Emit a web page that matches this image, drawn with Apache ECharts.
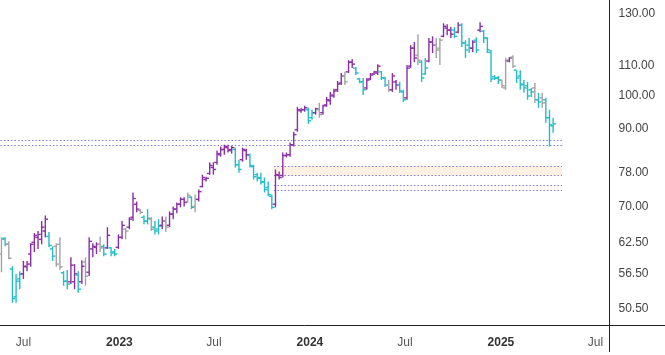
<!DOCTYPE html>
<html>
<head>
<meta charset="utf-8">
<script src="https://cdn.jsdelivr.net/npm/echarts@6/dist/echarts.min.js"></script>
<style>
  html, body { margin: 0; padding: 0; background: #ffffff; }
  #chart { width: 665px; height: 355px; }
</style>
</head>
<body>
<div id="chart"></div>
<script>
// ---------- DATA ----------
// Weekly bars, first week ending Friday 20 May 2022
const firstWeek = [2022, 4, 20];

const opens = [
  60.2,63.3,62.1,57.4,52.5,55.6,56.5,57.8,60.2,62.5,
  63.5,63.1,64.8,63.7,61.2,61.7,62.1,56.7,55.2,55.1,
  55.1,56.3,55.1,58.7,56.8,61.2,61.5,62.1,61.7,61.4,
  61.4,60.6,61.5,63.5,65.2,65.6,67.7,70.6,69.2,67.7,
  66.9,67.3,65.6,65.2,66.0,66.9,66.0,68.4,69.5,70.6,
  71.7,71.2,72.2,70.1,71.7,74.7,76.4,77.9,79.4,80.7,
  82.7,84.1,84.6,84.1,84.1,80.1,81.4,83.8,82.5,79.6,
  77.6,76.9,75.9,74.5,72.4,70.6,77.4,77.4,82.5,82.7,
  85.4,89.6,95.2,95.5,95.5,93.1,94.6,95.5,94.6,97.0,
  98.3,99.8,101.8,104.0,106.4,107.8,111.2,109.1,105.4,104.4,
  102.4,105.4,107.1,107.4,107.8,105.7,103.4,101.8,104.4,103.4,
  101.1,99.2,109.8,116.3,113.7,111.2,107.1,111.6,118.6,117.4,
  116.3,120.8,124.0,123.2,123.2,122.4,125.1,118.2,117.4,116.3,
  119.3,123.2,122.8,120.1,114.8,106.1,105.7,105.0,102.4,111.6,
  113.0,108.4,106.4,103.7,103.1,101.8,102.4,98.6,99.2,98.6,
  93.1,90.7
];
const highs = [
  63.5,63.5,62.7,57.9,56.5,57.0,58.9,58.9,62.3,64.4,
  64.8,66.9,68.1,64.6,61.7,62.3,63.5,57.0,57.2,59.6,
  58.3,57.0,59.0,59.6,63.5,62.3,62.5,63.7,62.1,65.6,
  61.5,61.2,64.1,66.9,65.4,67.7,73.3,71.2,69.5,68.1,
  69.5,67.7,66.9,67.3,67.9,67.9,69.0,70.1,71.0,72.2,
  72.2,73.3,72.4,72.8,74.0,77.6,77.1,80.7,80.7,83.8,
  84.9,85.4,85.4,85.1,84.6,81.4,84.6,84.3,83.0,80.1,
  78.1,78.1,76.9,75.9,72.8,78.9,78.4,83.3,83.3,86.0,
  89.0,96.4,96.1,96.7,96.1,95.5,96.1,97.6,97.0,99.5,
  101.1,102.1,104.7,107.4,107.8,111.9,112.3,109.5,105.7,105.7,
  105.7,107.4,108.1,110.5,108.1,106.1,105.0,107.4,105.0,104.4,
  101.8,110.2,117.4,118.6,121.6,111.9,112.7,120.1,120.8,120.1,
  120.1,125.9,125.5,124.4,124.4,126.3,125.9,119.3,120.1,119.3,
  120.4,126.3,123.2,120.4,115.6,106.7,106.4,105.0,112.7,113.0,
  113.7,108.4,108.4,105.0,104.4,102.4,104.0,100.8,100.8,99.2,
  95.5,93.1
];
const lows = [
  56.8,61.7,59.2,51.5,51.5,53.8,55.6,57.0,57.8,60.6,
  61.2,62.1,63.5,61.5,58.9,57.8,57.2,54.4,53.8,54.7,
  53.8,53.2,54.7,54.4,56.1,59.6,60.2,60.6,59.8,61.2,
  59.8,59.8,61.2,63.1,63.1,65.2,66.9,68.8,68.4,66.2,
  66.2,64.8,64.1,64.1,65.2,64.6,65.6,67.3,68.6,69.9,
  70.1,71.0,69.5,68.8,71.2,74.5,75.9,77.6,77.6,80.1,
  82.2,82.7,83.3,83.0,79.4,78.1,80.9,81.4,79.4,76.4,
  75.9,75.2,73.3,72.4,69.5,69.9,76.4,76.9,82.0,82.2,
  84.9,89.0,94.6,94.9,91.3,92.5,94.0,93.1,94.0,96.4,
  97.0,99.2,101.1,103.4,103.4,107.4,109.1,106.7,104.0,100.1,
  101.8,105.0,106.7,106.7,105.0,102.7,101.1,101.1,101.8,100.8,
  97.9,98.6,109.1,111.2,110.2,104.4,106.7,111.2,114.5,112.7,
  110.2,120.4,121.2,120.1,120.1,122.0,116.7,112.7,114.5,114.8,
  114.5,122.4,118.2,114.5,104.4,105.0,103.7,102.4,101.8,111.2,
  109.1,104.0,101.8,100.8,98.6,99.5,97.6,96.1,96.1,91.6,
  84.9,88.7
];
const closes = [
  63.1,62.1,59.4,52.2,55.2,56.5,57.9,58.3,62.1,63.9,
  64.1,65.6,67.3,61.9,59.8,58.3,57.8,55.2,54.7,58.1,
  56.5,53.8,57.9,56.1,62.7,61.7,62.1,61.4,60.2,63.9,
  60.4,60.2,63.5,66.0,64.8,67.3,71.9,69.5,68.8,66.9,
  67.5,65.2,64.8,65.8,66.9,65.6,68.4,69.5,70.6,71.7,
  71.0,72.6,69.9,71.7,73.5,76.9,76.7,79.9,78.9,83.0,
  84.1,84.9,83.8,84.6,80.1,78.9,84.1,82.7,79.9,77.1,
  76.7,75.7,74.0,72.8,69.9,77.6,76.9,82.5,82.7,85.4,
  88.2,95.5,95.5,96.1,92.2,94.6,95.8,94.0,96.7,98.6,
  100.1,101.4,103.7,106.4,104.4,111.2,110.5,107.4,104.4,101.8,
  105.0,106.7,107.8,109.8,105.7,103.4,101.8,106.4,103.4,101.4,
  98.6,109.1,116.3,112.7,111.9,105.7,109.1,118.6,117.4,115.6,
  119.3,124.7,123.2,121.6,120.8,125.1,118.2,115.6,116.3,118.6,
  115.6,124.7,120.1,115.6,105.4,105.7,105.0,103.1,111.9,112.7,
  109.8,105.7,103.4,102.4,99.8,101.1,98.6,97.9,97.6,93.1,
  91.0,91.3
];
// p = rising impulse, t = falling impulse, g = neutral
const barStates = (
  'g t g t t t p p p p ' + 'p p p t t g g t t p ' + 'p t p g p p p g t p ' +
  't t p p g p p p g t ' + 't g t t p g p p p p ' + 'p g t g p p p p p p ' +
  'p p p p t t p p t t ' + 't t t t t p p p p p ' + 'p p p p t t p g p p ' +
  'p p p p g p p t t t ' + 'p p p p t t g p p t ' + 't p p p g t t p p g ' +
  'g p p p t p t t t p ' + 't p t t t t t g g p ' + 'g t t t t t g t g t ' +
  't t'
).trim().split(/\s+/);

const yTicks = [50.5, 56.5, 62.5, 70, 78, 90, 100, 110, 130];
const xTickDates = [[2022,6,1],[2023,0,1],[2023,6,1],[2024,0,1],[2024,6,1],[2025,0,1],[2025,6,1]];
const xTickLabels = ['Jul','2023','Jul','2024','Jul','2025','Jul'];

// horizontal levels: [price, startDate, endDate]
const levelLines = [
  [86.60, [2022,4,18], [2025,3,28]],
  [85.23, [2022,4,18], [2025,3,28]],
  [79.77, [2023,9,24], [2025,3,28]],
  [77.33, [2023,9,24], [2025,3,28]],
  [74.99, [2023,9,24], [2025,3,28]],
  [73.80, [2023,9,24], [2025,3,28]]
];
// shaded zones: [low, high, startDate, endDate, strength]
const zones = [
  [77.33, 79.77, [2023,9,24], [2025,3,28], 0.45],
  [73.80, 74.99, [2023,9,24], [2025,3,28], 0.18]
];

// ---------- CHART ----------
const ts = d => new Date(d[0], d[1], d[2]).getTime();
const DAY = 86400000;
const start = ts(firstWeek);
const weeks = opens.map((_, i) => start + i * 7 * DAY);
const bars = weeks.map((t, i) => [t, opens[i], highs[i], lows[i], closes[i]]);
const xTicks = xTickDates.map(ts);

const palette = { p: '#8b2fa6', t: '#22bdc9', g: '#a3a3a3' };
const font = 'Liberation Sans, Arial, sans-serif';

const chart = echarts.init(document.getElementById('chart'), null, { renderer: 'canvas' });

chart.setOption({
  animation: false,
  backgroundColor: '#ffffff',
  grid: { left: 0, right: 55.5, top: 0, bottom: 30, containLabel: false },
  xAxis: {
    type: 'value',
    scale: true,
    min: new Date(2022, 4, 17, 4).getTime(),
    max: new Date(2025, 6, 28).getTime(),
    axisLine: { show: true, lineStyle: { color: '#222', width: 1 } },
    axisTick: { show: false },
    splitLine: { show: false },
    axisLabel: {
      customValues: xTicks,
      margin: 12,
      fontFamily: font,
      fontSize: 12,
      color: '#555',
      formatter: function (v) {
        let k = 0, best = Infinity;
        xTicks.forEach((t, i) => { const d = Math.abs(t - v); if (d < best) { best = d; k = i; } });
        const lab = xTickLabels[k];
        return /^\d+$/.test(lab) ? '{y|' + lab + '}' : '{m|' + lab + '}';
      },
      rich: {
        y: { fontFamily: font, fontSize: 12, fontWeight: 'bold', color: '#333' },
        m: { fontFamily: font, fontSize: 12, color: '#555' }
      }
    }
  },
  yAxis: {
    type: 'log',
    logBase: 10,
    position: 'right',
    min: 47.98,
    max: 135.65,
    axisLine: { show: true, lineStyle: { color: '#222', width: 1 } },
    axisTick: { show: false },
    splitLine: { show: false },
    axisLabel: {
      customValues: yTicks,
      margin: 9,
      fontFamily: font,
      fontSize: 12,
      color: '#444',
      formatter: v => Number(v).toFixed(2)
    }
  },
  graphic: [
    { type: 'line', silent: true, shape: { x1: 609.5, y1: 325.5, x2: 665, y2: 325.5 }, style: { stroke: '#222', lineWidth: 1 } },
    { type: 'line', silent: true, shape: { x1: 609.5, y1: 325, x2: 609.5, y2: 352 }, style: { stroke: '#222', lineWidth: 1 } }
  ],
  series: [{
    type: 'custom',
    data: bars,
    encode: { x: 0, y: [1, 2, 3, 4] },
    clip: true,
    z: 3,
    renderItem: function (params, api) {
      const t = api.value(0);
      const pO = api.coord([t, api.value(1)]);
      const pH = api.coord([t, api.value(2)]);
      const pL = api.coord([t, api.value(3)]);
      const pC = api.coord([t, api.value(4)]);
      const color = palette[barStates[params.dataIndex]] || palette.g;
      const style = { stroke: color, lineWidth: 1.4 };
      const x = pH[0];
      const tick = 2.8;
      return {
        type: 'group',
        children: [
          { type: 'line', shape: { x1: x, y1: pH[1], x2: x, y2: pL[1] }, style: style },
          { type: 'line', shape: { x1: x - tick, y1: pO[1], x2: x, y2: pO[1] }, style: style },
          { type: 'line', shape: { x1: x, y1: pC[1], x2: x + tick, y2: pC[1] }, style: style }
        ]
      };
    },
    markArea: {
      silent: true,
      z: 1,
      data: zones.map(z => [
        { coord: [ts(z[2]), z[1]], itemStyle: { color: 'rgba(252, 224, 192, ' + z[4] + ')' } },
        { coord: [ts(z[3]), z[0]] }
      ])
    },
    markLine: {
      silent: true,
      z: 2,
      symbol: 'none',
      label: { show: false },
      lineStyle: { color: '#7d7fd0', type: [1.5, 2], width: 1 },
      data: levelLines.map(l => [
        { coord: [ts(l[1]), l[0]] },
        { coord: [ts(l[2]), l[0]] }
      ])
    }
  }]
});
</script>
</body>
</html>
